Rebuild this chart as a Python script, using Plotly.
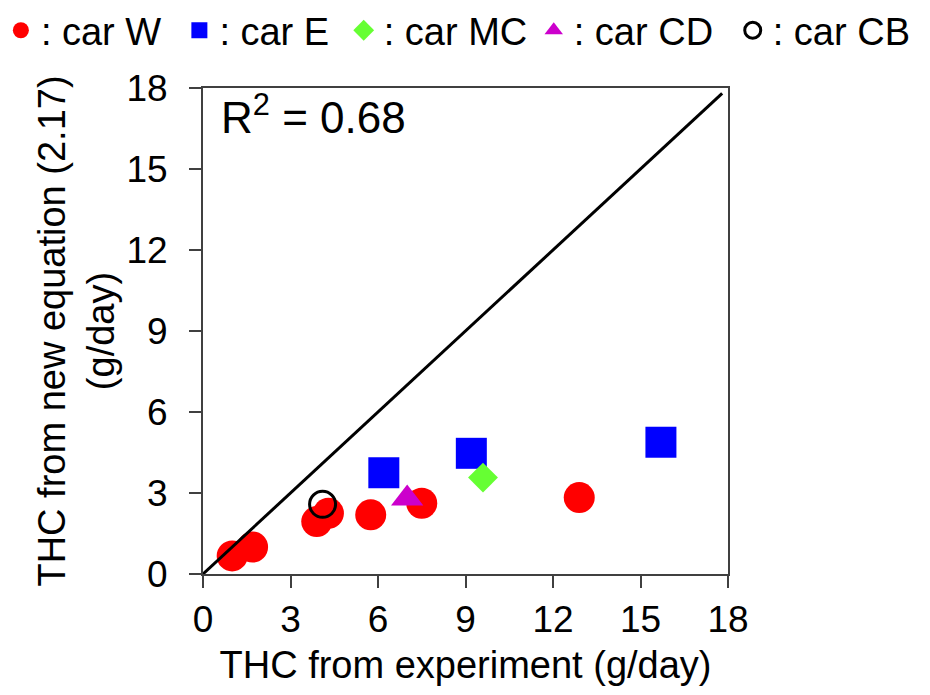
import plotly.graph_objects as go

# data (g/day)
w_x = [1.0, 1.7, 3.9, 4.3, 5.75, 7.5, 12.9]
w_y = [0.67, 1.0, 1.94, 2.25, 2.19, 2.62, 2.83]
e_x = [6.2, 9.2, 15.7]
e_y = [3.75, 4.47, 4.88]
mc_x = [9.6]
mc_y = [3.57]
cd_x = [7.0]
cd_y = [2.8]
cb_x = [4.1]
cb_y = [2.58]
line_x = [0, 17.8]
line_y = [0, 17.8]
tick_vals = [0, 3, 6, 9, 12, 15, 18]

FONT = "Liberation Sans, Arial, sans-serif"
AX = "#404040"

fig = go.Figure()
fig.add_trace(go.Scatter(x=w_x, y=w_y, mode="markers", name=": car W", legend="legend",
                         marker=dict(symbol="circle", size=31, color="#ff0000", line=dict(width=0))))
fig.add_trace(go.Scatter(x=e_x, y=e_y, mode="markers", name=": car E", legend="legend2",
                         marker=dict(symbol="square", size=31, color="#0000ff", line=dict(width=0))))
fig.add_trace(go.Scatter(x=mc_x, y=mc_y, mode="markers", name=": car MC", legend="legend3",
                         marker=dict(symbol="diamond", size=23, color="#66ff33", line=dict(width=0))))
fig.add_trace(go.Scatter(x=cd_x, y=cd_y, mode="markers", name=": car CD", legend="legend4",
                         marker=dict(symbol="triangle-up", size=28, color="#cc00cc", line=dict(width=0))))
fig.add_trace(go.Scatter(x=cb_x, y=cb_y, mode="markers", name=": car CB", legend="legend5",
                         marker=dict(symbol="circle-open", size=26, color="#000000", line=dict(width=3))))
fig.add_trace(go.Scatter(x=line_x, y=line_y, mode="lines", showlegend=False,
                         line=dict(color="#000000", width=3)))

axis_common = dict(
    range=[0, 18], tickvals=tick_vals, ticks="outside", ticklen=12, tickwidth=2,
    tickcolor=AX, showline=True, linecolor=AX, linewidth=2, mirror=True,
    showgrid=False, zeroline=False, tickfont=dict(family=FONT, size=37, color="black"),
)
fig.update_xaxes(**axis_common,
                 title=dict(text="THC from experiment (g/day)", font=dict(family=FONT, size=38, color="black"), standoff=12))
fig.update_yaxes(**axis_common, ticklabelstandoff=14,
                 title=dict(text="THC from new equation (2.17)<br>(g/day)", font=dict(family=FONT, size=38, color="black"), standoff=0))

fig.add_annotation(text="R<sup>2</sup> = 0.68", xref="paper", yref="paper", x=0.03, y=0.945,
                   xanchor="left", yanchor="middle", showarrow=False,
                   font=dict(family=FONT, size=44, color="black"))

legend_style = dict(orientation="h", xref="paper", yref="paper", y=1.183,
                    xanchor="left", yanchor="top", font=dict(family=FONT, size=38, color="black"),
                    itemwidth=30, bgcolor="rgba(0,0,0,0)")
fig.update_layout(
    width=930, height=695,
    margin=dict(l=195, r=210, t=80, b=129, autoexpand=False),
    paper_bgcolor="white", plot_bgcolor="white",
    font=dict(family=FONT, color="black"),
    legend=dict(legend_style, x=-0.385),
    legend2=dict(legend_style, x=-0.045),
    legend3=dict(legend_style, x=0.268),
    legend4=dict(legend_style, x=0.63),
    legend5=dict(legend_style, x=1.009),
)

fig.write_html("out.html")
